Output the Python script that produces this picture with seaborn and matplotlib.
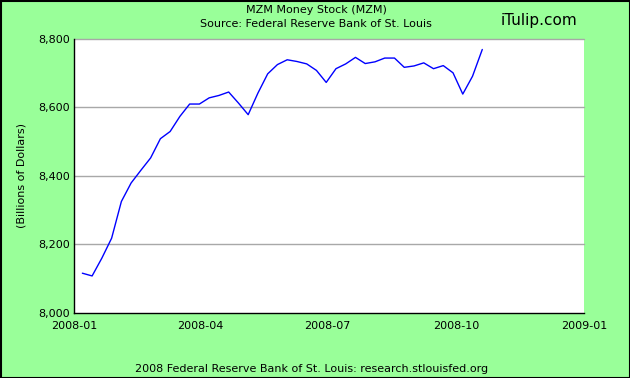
import numpy as np
import pandas as pd
import matplotlib
matplotlib.use("Agg")
import matplotlib.pyplot as plt
import matplotlib.dates as mdates
import seaborn as sns

start_date = "2008-01-07"
n_weeks = 42
mzm_values = [8116, 8108, 8160, 8218, 8325, 8379, 8416, 8452, 8508, 8529,
              8573, 8609, 8609, 8627, 8634, 8644, 8612, 8578, 8641, 8697,
              8724, 8738, 8733, 8726, 8707, 8672, 8712, 8726, 8745, 8727,
              8732, 8743, 8743, 8716, 8720, 8729, 8712, 8721, 8700, 8638,
              8690, 8768]
y_ticks = [8000, 8200, 8400, 8600, 8800]
x_tick_dates = ["2008-01-01", "2008-04-01", "2008-07-01", "2008-10-01", "2009-01-01"]
x_tick_labels = ["2008-01", "2008-04", "2008-07", "2008-10", "2009-01"]

dates = pd.date_range(start_date, periods=n_weeks, freq="7D")
df = pd.DataFrame({"date": dates, "value": mzm_values})

sns.set_theme(style="white")
plt.rcParams["font.family"] = ["DejaVu Sans"]
plt.rcParams["text.color"] = "black"

bg = "#99FF99"
fs = 8
fig = plt.figure(figsize=(6.3, 3.78), dpi=100, facecolor=bg)
ax = fig.add_axes([74/630, 1 - 313/378, (584-74)/630, (313-38.5)/378])
ax.set_facecolor("white")

for v in y_ticks[1:]:
    ax.axhline(v, color="#A8A8A8", linewidth=1.0, zorder=0, clip_on=False)

sns.lineplot(data=df, x="date", y="value", ax=ax, color="#0000FF", linewidth=1.0)

ax.set_xlim(pd.Timestamp(x_tick_dates[0]), pd.Timestamp(x_tick_dates[-1]))
ax.set_ylim(y_ticks[0], y_ticks[-1])
ax.set_yticks(y_ticks)
ax.set_yticklabels([f"{v:,}" for v in y_ticks], fontsize=fs, color="black")
ax.set_xticks([pd.Timestamp(d) for d in x_tick_dates])
ax.set_xticklabels(x_tick_labels, fontsize=fs, color="black")
ax.tick_params(axis="both", direction="in", length=5, width=1, color="black", pad=3)
ax.tick_params(axis="x", pad=6)

for s in ["top", "right"]:
    ax.spines[s].set_visible(False)
for s in ["left", "bottom"]:
    ax.spines[s].set_color("black")
    ax.spines[s].set_linewidth(1.0)

ax.set_xlabel("")
ax.set_ylabel("(Billions of Dollars)", fontsize=fs, color="black", labelpad=8)
ax.grid(False)

fig.text(316/630, 1 - 10/378, "MZM Money Stock (MZM)", ha="center", va="center", fontsize=fs, color="black")
fig.text(316/630, 1 - 24/378, "Source: Federal Reserve Bank of St. Louis", ha="center", va="center", fontsize=fs, color="black")
fig.text(539/630, 1 - 21/378, "iTulip.com", ha="center", va="center", fontsize=11, color="black")
fig.text(312/630, 1 - 369/378, "2008 Federal Reserve Bank of St. Louis: research.stlouisfed.org",
         ha="center", va="center", fontsize=fs, color="black")

border = plt.Rectangle((0.5/630, 0.5/378), 629/630, 377/378, transform=fig.transFigure,
                       fill=False, edgecolor="black", linewidth=1.5)
fig.patches.append(border)

fig.savefig("out.png", dpi=100, facecolor=bg)
